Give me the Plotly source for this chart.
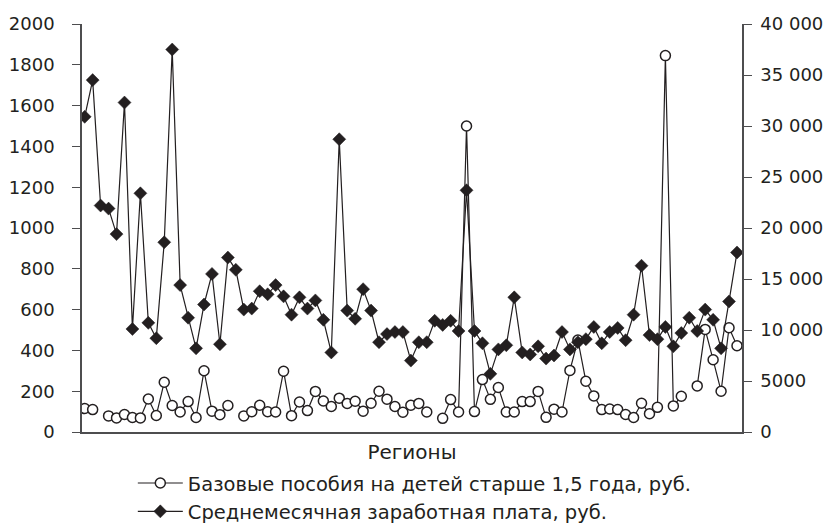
import plotly.graph_objects as go

regions = list(range(83))

# Базовые пособия на детей старше 1,5 года, руб. (left axis)
benefit = [115, 110, None, 79, 69, 86, 71, 69, 162, 81,
           244, 130, 98, 149, 71, 300, 102, 85, 130, None,
           79, 99, 131, 99, 98, 298, 80, 147, 105, 199,
           152, 125, 166, 140, 151, 102, 141, 200, 161, 125,
           97, 131, 140, 98, None, 67, 159, 98, 1500, 100,
           257, 160, 218, 98, 98, 149, 149, 199, 72, 112,
           98, 302, 451, 249, 177, 110, 113, 110, 86, 71,
           141, 90, 121, 1845, 128, 175, None, 226, 503, 354,
           200, 511, 423]

# Среднемесячная заработная плата, руб. (right axis)
salary = [30900, 34500, 22200, 21900, 19400, 32300, 10100, 23400, 10700, 9200,
          18600, 37500, 14400, 11200, 8200, 12500, 15500, 8600, 17100, 15900,
          12000, 12100, 13800, 13500, 14400, 13300, 11500, 13200, 12100, 12900,
          11000, 7800, 28700, 11900, 11100, 14000, 11900, 8800, 9600, 9800,
          9800, 7000, 8800, 8800, 10900, 10500, 10900, 9900, 23700, 9900,
          8700, 5700, 8100, 8500, 13200, 7800, 7600, 8400, 7200, 7500,
          9800, 8100, 8800, 9100, 10300, 8700, 9800, 10200, 9000, 11500,
          16300, 9500, 9100, 10300, 8400, 9700, 11200, 9900, 12000, 11000,
          8200, 12800, 17600]

left_ticks = list(range(0, 2001, 200))
right_ticks = [0, 5000, 10000, 15000, 20000, 25000, 30000, 35000, 40000]
right_labels = ["0", "5000", "10 000", "15 000", "20 000", "25 000", "30 000", "35 000", "40 000"]

ink = "#231f20"
axis_col = "#4d4d4f"
font = "DejaVu Sans, Arial, sans-serif"

fig = go.Figure()
fig.add_trace(go.Scatter(
    x=regions, y=salary, yaxis="y2", mode="lines+markers",
    name="Среднемесячная заработная плата, руб.",
    line=dict(color=ink, width=1.2),
    marker=dict(symbol="diamond", size=10, color=ink, line=dict(color=ink, width=0.5)),
    legendrank=2,
))
fig.add_trace(go.Scatter(
    x=regions, y=benefit, mode="lines+markers",
    name="Базовые пособия на детей старше 1,5 года, руб.",
    connectgaps=False,
    line=dict(color=ink, width=1.2),
    marker=dict(symbol="circle", size=10, color="white", line=dict(color=ink, width=1.5)),
    legendrank=1,
))

# the page body adds an 8 px offset, so the figure is 8 px smaller and margins shifted
fig.update_layout(
    width=824, height=518,
    margin=dict(l=74, r=90, t=16, b=94),
    paper_bgcolor="white", plot_bgcolor="white",
    font=dict(family=font, size=18, color=ink),
    showlegend=True,
    legend=dict(orientation="v", x=0.077, xanchor="left", yref="container",
                y=0.12, yanchor="top", itemwidth=45,
                font=dict(size=19.5), bgcolor="rgba(0,0,0,0)", tracegroupgap=0),
    xaxis=dict(range=[-0.34, 82.63], showline=True, linecolor=axis_col, linewidth=1.5,
               showticklabels=False, ticks="", showgrid=False, zeroline=False,
               automargin=False,
               title=dict(text="Регионы", standoff=14, font=dict(size=20))),
    yaxis=dict(range=[0, 2000], tickvals=left_ticks, ticks="outside", ticklen=8,
               tickcolor=axis_col, showline=True, linecolor=axis_col, linewidth=1.5,
               showgrid=False, zeroline=False, ticklabelstandoff=14, automargin=False),
    yaxis2=dict(range=[0, 40000], overlaying="y", side="right", tickvals=right_ticks,
                ticktext=right_labels, ticks="outside", ticklen=8, tickcolor=axis_col,
                showline=True, linecolor=axis_col, linewidth=1.5, showgrid=False,
                zeroline=False, ticklabelstandoff=5, automargin=False),
)

fig.write_html("out.html")
